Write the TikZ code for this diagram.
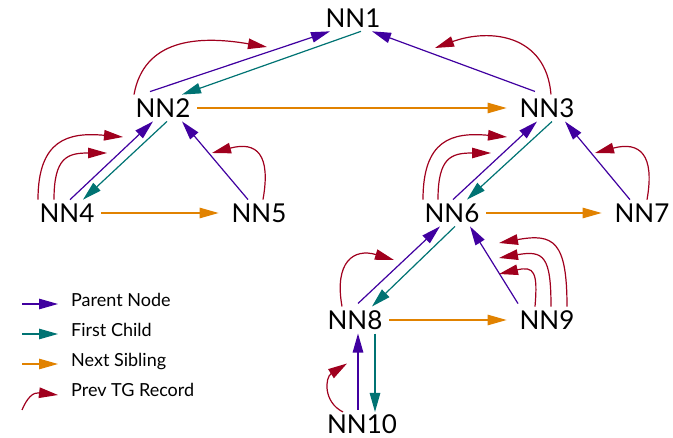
\documentclass[tikz,border=0pt]{standalone}
\usepackage{fontspec}
\setmainfont{Lato}
\usetikzlibrary{arrows.meta,calc}
\definecolor{parentColor}{RGB}{64,0,160}
\definecolor{childColor}{RGB}{0,115,115}
\definecolor{siblingColor}{RGB}{225,130,0}
\definecolor{prevColor}{RGB}{160,0,30}
\tikzset{%
  >={Triangle[length=19pt,width=10.5pt]},
  % Specifications for style of nodes and links:
      treeNode/.style = {inner sep=0pt, outer xsep=7pt, outer ysep=4pt,
                         font=\fontsize{26}{28}\selectfont},
    legendText/.style = {inner sep=0pt, anchor=base west,
                         font=\fontsize{18}{20}\selectfont},
          link/.style = {->, line width=1.2pt},
    parentNode/.style = {link, parentColor},
    firstChild/.style = {link, childColor},
   nextSibling/.style = {link, siblingColor},
    prevRecord/.style = {link, prevColor},
}

\begin{document}
\begin{tikzpicture}[x=1pt, y=1pt, node distance=105pt]
  \useasboundingbox (0,0) rectangle (673,438);

  % Specification of nodes (position, etc.)
  \node (nn1)  [treeNode] at (353,420) {NN1};
  \node (nn2)  [treeNode, below of=nn1, xshift=-190pt, yshift=15pt] {NN2};
  \node (nn3)  [treeNode, below of=nn1, xshift=194pt, yshift=15pt] {NN3};
  \node (nn4)  [treeNode, below of=nn2, xshift=-96pt] {NN4};
  \node (nn5)  [treeNode, below of=nn2, xshift=96pt] {NN5};
  \node (nn6)  [treeNode, below of=nn3, xshift=-95pt] {NN6};
  \node (nn7)  [treeNode, below of=nn3, xshift=95pt] {NN7};
  \node (nn8)  [treeNode, below of=nn6, xshift=-97pt, yshift=-2pt] {NN8};
  \node (nn9)  [treeNode, below of=nn6, xshift=95pt, yshift=-2pt] {NN9};
  \node (nn10) [treeNode, below of=nn8, xshift=7pt, yshift=0.5pt] {NN10};

  % legend
  \node (legParent)  [legendText] at (71,131) {Parent Node};
  \node (legChild)   [legendText] at (71,101) {First Child};
  \node (legSibling) [legendText] at (71,71)  {Next Sibling};
  \node (legPrev)    [legendText] at (71,41)  {Prev TG Record};

  % free ends of the prev record arcs
  \coordinate (prev2)  at ($(nn2)+(104,61)$);
  \coordinate (prev3)  at ($(nn3)+(-112,60)$);
  \coordinate (prev4a) at ($(nn4)+(56,76)$);
  \coordinate (prev4b) at ($(nn4)+(40,60)$);
  \coordinate (prev5)  at ($(nn5)+(-47,60)$);
  \coordinate (prev6a) at ($(nn6)+(55,76)$);
  \coordinate (prev6b) at ($(nn6)+(39,60)$);
  \coordinate (prev7)  at ($(nn7)+(-47,60)$);
  \coordinate (prev8)  at ($(nn8)+(39,60)$);
  \coordinate (prev9a) at ($(nn9)+(-48,46)$);
  \coordinate (prev9b) at ($(nn9)+(-48,62)$);
  \coordinate (prev9c) at ($(nn9)+(-48,77)$);
  \coordinate (prev10) at ($(nn10)+(-15,61)$);

  \coordinate (legParentStart)  at (22,134);
  \coordinate (legChildStart)   at (22,104);
  \coordinate (legSiblingStart) at (22,74);
  \coordinate (legPrevStart)    at (22,28);

  % Specification of lines between nodes specified above
  \draw[parentNode] ([xshift=-13pt,yshift=3pt]nn2.north) -- ([xshift=-23pt]nn1.south);
  \draw[parentNode] ([xshift=-12pt,yshift=3pt]nn3.north) -- ([xshift=19pt]nn1.south);
  \draw[parentNode] ([xshift=3pt]nn4.north) -- ([xshift=-10pt]nn2.south);
  \draw[parentNode] ([xshift=-11pt]nn5.north) -- ([xshift=19pt]nn2.south);
  \draw[parentNode] ([xshift=1pt]nn6.north) -- ([xshift=-10pt]nn3.south);
  \draw[parentNode] ([xshift=-12pt]nn7.north) -- ([xshift=18pt]nn3.south);
  \draw[parentNode] ([xshift=3pt,yshift=3pt]nn8.north) -- ([xshift=-12pt]nn6.south);
  \draw[parentNode] ([xshift=-29pt,yshift=3pt]nn9.north) -- ([xshift=18pt]nn6.south);
  \draw[parentNode] ([xshift=-4pt,yshift=1pt]nn10.north) -- ([xshift=3pt]nn8.south);

  \draw[firstChild] ([xshift=8pt]nn1.south) -- ([xshift=19pt]nn2.north);
  \draw[firstChild] ([xshift=4pt]nn2.south) -- ([xshift=16pt]nn4.north);
  \draw[firstChild] ([xshift=5pt]nn3.south) -- ([xshift=15pt]nn6.north);
  \draw[firstChild] ([xshift=3pt]nn6.south) -- ([xshift=17pt]nn8.north);
  \draw[firstChild] ([xshift=20pt]nn8.south) -- ([xshift=13pt,yshift=-1pt]nn10.north);

  \draw[nextSibling, shorten >=6pt] (nn2.east) -- (nn3.west);
  \draw[nextSibling, shorten >=6pt] (nn4.east) -- (nn5.west);
  \draw[nextSibling, shorten >=6pt] (nn6.east) -- (nn7.west);
  \draw[nextSibling, shorten >=6pt] (nn8.east) -- (nn9.west);

  \draw[prevRecord] ([xshift=-29pt]nn2.north) .. controls +(10,55) and +(-70,12) .. (prev2);
  \draw[prevRecord] ([xshift=4pt]nn3.north) .. controls +(-5,60) and +(55,20) .. (prev3);
  \draw[prevRecord] ([xshift=-29pt]nn4.north) .. controls +(0,60) and +(-55,5) .. (prev4a);
  \draw[prevRecord] ([xshift=-13pt]nn4.north) .. controls +(0,42) and +(-40,0) .. (prev4b);
  \draw[prevRecord] ([xshift=4pt]nn5.north) .. controls +(8,45) and +(45,12) .. (prev5);
  \draw[prevRecord] ([xshift=-29pt]nn6.north) .. controls +(0,60) and +(-55,5) .. (prev6a);
  \draw[prevRecord] ([xshift=-14pt]nn6.north) .. controls +(0,42) and +(-40,0) .. (prev6b);
  \draw[prevRecord] ([xshift=5pt]nn7.north) .. controls +(8,45) and +(45,12) .. (prev7);
  \draw[prevRecord] ([xshift=-13pt]nn8.north) .. controls +(-8,45) and +(-40,12) .. (prev8);
  \draw[prevRecord] ([xshift=-12pt]nn9.north) .. controls +(3,35) and +(35,8) .. (prev9a);
  \draw[prevRecord] ([xshift=4pt]nn9.north) .. controls +(0,50) and +(45,8) .. (prev9b);
  \draw[prevRecord] ([xshift=20pt]nn9.north) .. controls +(0,65) and +(55,10) .. (prev9c);
  \draw[prevRecord] ([xshift=-19pt,yshift=-1pt]nn10.north) .. controls +(-20,10) and +(-22,-14) .. (prev10);

  \draw[parentNode]  (legParentStart)  -- ([xshift=-13pt,yshift=3pt]legParent.base west);
  \draw[firstChild]  (legChildStart)   -- ([xshift=-13pt,yshift=3pt]legChild.base west);
  \draw[nextSibling] (legSiblingStart) -- ([xshift=-13pt,yshift=3pt]legSibling.base west);
  \draw[prevRecord]  (legPrevStart) .. controls +(5,12) and +(-25,3) .. ([xshift=-13pt,yshift=2pt]legPrev.base west);
\end{tikzpicture}
\end{document}
